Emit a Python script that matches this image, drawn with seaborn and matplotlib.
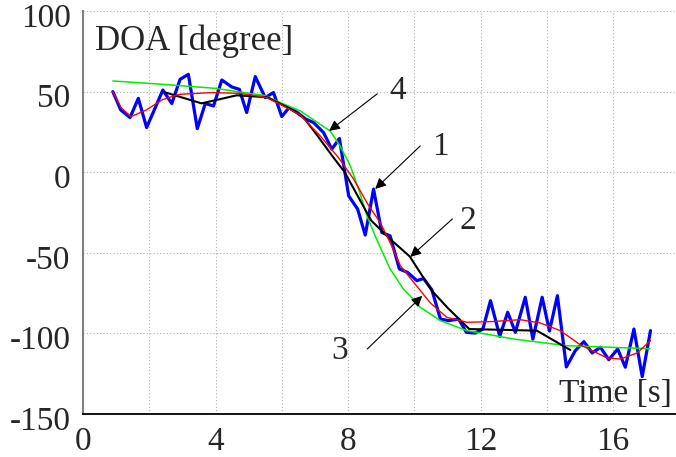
import numpy as np
import pandas as pd
import matplotlib
matplotlib.use("Agg")
import matplotlib.pyplot as plt
import matplotlib.transforms as mtransforms
import seaborn as sns

# ---- data ----
# 1: raw DOA measurements (blue)
raw_t = [0.90, 1.14, 1.42, 1.67, 1.92, 2.17, 2.41, 2.68, 2.93, 3.18, 3.45, 3.69, 3.94,
         4.19, 4.49, 4.72, 4.94, 5.20, 5.50, 5.75, 6.00, 6.22, 6.47, 6.72, 6.96, 7.26,
         7.51, 7.74, 8.02, 8.29, 8.52, 8.77, 9.02, 9.27, 9.55, 9.80, 10.08, 10.28, 10.53,
         10.79, 11.04, 11.34, 11.57, 11.84, 12.07, 12.30, 12.58, 12.82, 13.05, 13.35,
         13.58, 13.86, 14.08, 14.32, 14.59, 14.86, 15.12, 15.37, 15.62, 15.87, 16.14,
         16.37, 16.63, 16.88, 17.13]
raw_doa = [50.0, 38.6, 33.9, 45.8, 27.7, 39.5, 51.0, 42.6, 57.6, 60.7, 27.0, 42.6, 41.1,
           57.2, 52.9, 51.4, 37.0, 59.3, 46.3, 49.4, 34.5, 40.1, 37.0, 33.0, 30.8, 24.6,
           14.3, 20.9, -14.7, -22.9, -39.0, -10.5, -37.4, -39.5, -60.0, -62.2, -67.3, -65.9,
           -73.0, -91.1, -92.1, -91.1, -99.3, -99.8, -97.3, -79.7, -101.8, -86.9, -99.3,
           -77.6, -103.5, -77.6, -98.5, -76.6, -120.8, -110.7, -105.1, -112.1, -108.6,
           -116.3, -109.7, -121.0, -97.3, -126.8, -98.3]

# 2: piecewise estimate (black)
blk_t = [2.48, 3.58, 4.64, 5.55, 6.20, 6.66, 7.10, 7.56, 7.90, 8.30, 8.70, 9.30, 9.86,
         10.53, 11.00, 11.66, 13.70, 14.71]
blk_doa = [49.5, 42.7, 47.7, 46.5, 40.0, 33.9, 22.0, 9.1, 0.0, -15.0, -30.0, -42.0, -52.2,
           -73.5, -84.0, -97.3, -98.3, -110.3]

# 3: smoothed estimate (red)
red_t = [0.90, 1.15, 1.45, 1.90, 2.40, 2.90, 3.90, 4.74, 5.55, 5.95, 6.56, 7.16, 7.71,
         8.17, 8.60, 8.97, 9.27, 9.58, 9.97, 10.48, 10.98, 11.59, 12.30, 13.20, 13.80,
         14.41, 15.02, 15.82, 16.22, 16.73, 17.13]
red_doa = [50.0, 40.0, 34.5, 38.5, 45.0, 48.3, 49.4, 48.9, 46.3, 42.1, 35.5, 22.5, 9.1,
           -4.3, -20.0, -31.2, -43.6, -58.0, -68.0, -81.0, -90.0, -93.1, -92.7, -91.5,
           -93.5, -98.3, -107.2, -115.2, -115.9, -112.1, -104.5]

# 4: model curve (green)
grn_t = [0.90, 2.42, 4.00, 5.50, 5.95, 6.56, 7.16, 7.46, 7.76, 8.07, 8.32, 8.57, 8.82,
         8.97, 9.27, 9.67, 9.98, 10.18, 10.79, 11.59, 13.00, 14.60, 17.11]
grn_doa = [56.6, 54.5, 52.0, 47.5, 43.2, 38.0, 29.7, 25.6, 16.3, 3.9, -10.5, -27.0, -39.5,
           -46.5, -60.0, -72.5, -79.0, -83.8, -92.1, -98.3, -103.5, -107.6, -109.5]

x_ticks = [0, 4, 8, 12, 16]
y_ticks = [-150, -100, -50, 0, 50, 100]

# ---- style ----
sns.set_style("white")
plt.rcParams["font.family"] = ["Liberation Serif", "DejaVu Serif"]
FS = 24

fig = plt.figure(figsize=(6.76, 4.57), dpi=100)
W, H = 676, 457
ax = fig.add_axes([83 / W, (H - 414) / H, (W - 83) / W, (414 - 11) / H])

df_raw = pd.DataFrame({"t": raw_t, "doa": raw_doa})
df_grn = pd.DataFrame({"t": grn_t, "doa": grn_doa})
df_blk = pd.DataFrame({"t": blk_t, "doa": blk_doa})
df_red = pd.DataFrame({"t": red_t, "doa": red_doa})

sns.lineplot(data=df_raw, x="t", y="doa", ax=ax, color="#0000ff", lw=2.3, zorder=3)
sns.lineplot(data=df_grn, x="t", y="doa", ax=ax, color="#00ee00", lw=1.1, zorder=4)
sns.lineplot(data=df_blk, x="t", y="doa", ax=ax, color="black", lw=1.5, zorder=5)
sns.lineplot(data=df_red, x="t", y="doa", ax=ax, color="#ff0000", lw=1.0, zorder=6)

ax.set_xlim(0, 17.9)
ax.set_ylim(-150, 100)
ax.set_xticks(x_ticks)
ax.set_xticks([2, 6, 10, 14], minor=True)
ax.set_yticks(y_ticks)
ax.set_xticklabels([str(v) for v in x_ticks], fontsize=FS)
ax.set_yticklabels([str(v) for v in y_ticks], fontsize=FS)
ax.tick_params(axis="both", which="both", length=0)
ax.tick_params(axis="x", pad=9)
ax.tick_params(axis="y", pad=9)
ax.set_xlabel("")
ax.set_ylabel("")
# reference labels sit a few pixels below their grid lines
shift = mtransforms.ScaledTranslation(0, -4 / 100, fig.dpi_scale_trans)
for lbl in ax.get_yticklabels():
    lbl.set_transform(lbl.get_transform() + shift)

ax.grid(True, which="both", axis="x", ls=(0, (1, 2)), color="#b0b0b0", lw=0.8)
ax.grid(True, which="major", axis="y", ls=(0, (1, 2)), color="#b0b0b0", lw=0.8)
for s in ["top", "right"]:
    ax.spines[s].set_visible(False)
ax.spines["left"].set_color("#808080")
ax.spines["left"].set_linewidth(1.5)
ax.spines["bottom"].set_color("black")
ax.spines["bottom"].set_linewidth(1.3)

# axis titles inside the plot
fig.text(95 / W, 1 - 50 / H, "DOA [degree]", fontsize=FS + 1, ha="left", va="baseline")
fig.text(672 / W, 1 - 402 / H, "Time [s]", fontsize=FS, ha="right", va="baseline")

# numbered callouts
arrow = dict(arrowstyle="-|>", lw=0.8, color="black", mutation_scale=16,
             shrinkA=0, shrinkB=0)
callouts = [("4", (9.49, 50.4), (8.88, 48.6), (7.43, 25.6)),
            ("1", (10.79, 15.7), (10.18, 16.3), (8.82, -10.4)),
            ("2", (11.63, -30.2), (11.15, -29.0), (9.88, -52.5)),
            ("3", (7.76, -110.9), (8.58, -109.7), (10.24, -76.7))]
for lab, lpos, start, tip in callouts:
    ax.text(lpos[0], lpos[1], lab, fontsize=FS, ha="center", va="center", zorder=8)
    ax.annotate("", xy=tip, xytext=start, arrowprops=arrow, zorder=8)

fig.savefig("out.png", dpi=100)
